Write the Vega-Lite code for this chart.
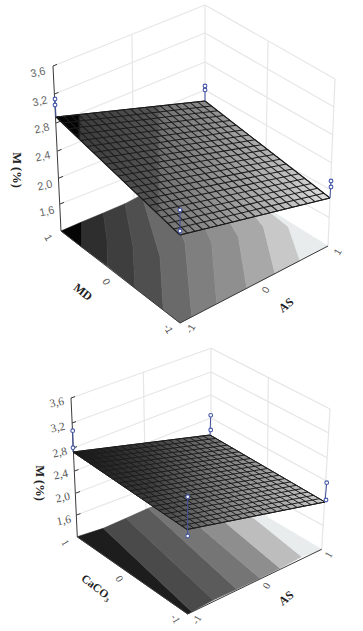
{"$schema":"https://vega.github.io/schema/vega-lite/v6.json","width":363,"height":631,"padding":0,"autosize":{"type":"none"},"background":"white","config":{"view":{"stroke":null}},
"datasets":{
"walls":[
{"x":53,"y":66,"x2":205,"y2":5},{"x":54.5,"y":94,"x2":205,"y2":33},{"x":56,"y":123,"x2":205,"y2":62},{"x":57.5,"y":151,"x2":205,"y2":90},{"x":59,"y":178,"x2":205,"y2":119},{"x":60,"y":204,"x2":205,"y2":147},
{"x":205,"y":5,"x2":335,"y2":79},{"x":205,"y":33,"x2":334,"y2":107},{"x":205,"y":62,"x2":333,"y2":135},{"x":205,"y":90,"x2":332,"y2":163},{"x":205,"y":119,"x2":331,"y2":190},{"x":205,"y":147,"x2":330,"y2":218},
{"x":205,"y":5,"x2":205,"y2":172},{"x":132,"y":35,"x2":134,"y2":202},{"x":268,"y":42,"x2":265,"y2":208},{"x":335,"y":79,"x2":328,"y2":246},
{"x":71,"y":398,"x2":211,"y2":348.3},{"x":72,"y":423,"x2":211,"y2":372},{"x":73,"y":448,"x2":211,"y2":395},{"x":74.5,"y":471,"x2":211,"y2":418},{"x":76,"y":493,"x2":211,"y2":441},{"x":76.5,"y":515,"x2":211,"y2":464},
{"x":211,"y":348.3,"x2":330,"y2":409},{"x":211,"y":372,"x2":328.7,"y2":433},{"x":211,"y":395,"x2":327.5,"y2":458},{"x":211,"y":418,"x2":326.5,"y2":481},{"x":211,"y":441,"x2":325,"y2":503},{"x":211,"y":464,"x2":324,"y2":526},
{"x":211,"y":348.3,"x2":211,"y2":485},{"x":143.3,"y":372.3,"x2":146,"y2":510},{"x":268.3,"y":377.7,"x2":267,"y2":518},{"x":330,"y":409,"x2":321.7,"y2":549.3}],
"floors":[
{"m":2.85,"i":1,"x":61,"y":231},{"m":2.85,"i":2,"x":81.7,"y":222},{"m":2.85,"i":3,"x":81.7,"y":247},
{"m":2.7,"i":1,"x":81.7,"y":222},{"m":2.7,"i":2,"x":103.3,"y":213},{"m":2.7,"i":3,"x":107,"y":240},{"m":2.7,"i":4,"x":107.3,"y":266},{"m":2.7,"i":5,"x":81.7,"y":247},
{"m":2.55,"i":1,"x":103.3,"y":213},{"m":2.55,"i":2,"x":125,"y":203.7},{"m":2.55,"i":3,"x":133,"y":246.7},{"m":2.55,"i":4,"x":135,"y":288},{"m":2.55,"i":5,"x":107.3,"y":266},{"m":2.55,"i":6,"x":107,"y":240},
{"m":2.4,"i":1,"x":125,"y":203.7},{"m":2.4,"i":2,"x":141.7,"y":195},{"m":2.4,"i":3,"x":160,"y":256.7},{"m":2.4,"i":4,"x":163.3,"y":310},{"m":2.4,"i":5,"x":135,"y":288},{"m":2.4,"i":6,"x":133,"y":246.7},
{"m":2.25,"i":1,"x":141.7,"y":195},{"m":2.25,"i":2,"x":163,"y":186},{"m":2.25,"i":3,"x":185,"y":243},{"m":2.25,"i":4,"x":191.7,"y":316.7},{"m":2.25,"i":5,"x":180,"y":323},{"m":2.25,"i":6,"x":163.3,"y":310},{"m":2.25,"i":7,"x":160,"y":256.7},
{"m":2.1,"i":1,"x":163,"y":186},{"m":2.1,"i":2,"x":182,"y":178},{"m":2.1,"i":3,"x":211.7,"y":243},{"m":2.1,"i":4,"x":216.7,"y":303.7},{"m":2.1,"i":5,"x":191.7,"y":316.7},{"m":2.1,"i":6,"x":185,"y":243},
{"m":1.95,"i":1,"x":182,"y":178},{"m":1.95,"i":2,"x":200,"y":172},{"m":1.95,"i":3,"x":238.3,"y":236.7},{"m":1.95,"i":4,"x":246.7,"y":288.3},{"m":1.95,"i":5,"x":216.7,"y":303.7},{"m":1.95,"i":6,"x":211.7,"y":243},
{"m":1.8,"i":1,"x":200,"y":172},{"m":1.8,"i":2,"x":205,"y":170},{"m":1.8,"i":3,"x":230,"y":185},{"m":1.8,"i":4,"x":263.3,"y":226.7},{"m":1.8,"i":5,"x":275,"y":273.7},{"m":1.8,"i":6,"x":246.7,"y":288.3},{"m":1.8,"i":7,"x":238.3,"y":236.7},
{"m":1.65,"i":1,"x":230,"y":185},{"m":1.65,"i":2,"x":256.7,"y":201.7},{"m":1.65,"i":3,"x":288.3,"y":226.7},{"m":1.65,"i":4,"x":300,"y":260.7},{"m":1.65,"i":5,"x":275,"y":273.7},{"m":1.65,"i":6,"x":263.3,"y":226.7},
{"m":1.5,"i":1,"x":256.7,"y":201.7},{"m":1.5,"i":2,"x":328,"y":246},{"m":1.5,"i":3,"x":300,"y":260.7},{"m":1.5,"i":4,"x":288.3,"y":226.7},
{"m":2.77,"i":1,"x":77.3,"y":536.7},{"m":2.77,"i":2,"x":103.3,"y":528.3},{"m":2.77,"i":3,"x":191.7,"y":611.7},{"m":2.77,"i":4,"x":187.7,"y":614},
{"m":2.44,"i":1,"x":103.3,"y":528.3},{"m":2.44,"i":2,"x":126,"y":518.3},{"m":2.44,"i":3,"x":213.3,"y":600},{"m":2.44,"i":4,"x":191.7,"y":611.7},
{"m":2.33,"i":1,"x":126,"y":518.3},{"m":2.33,"i":2,"x":148.3,"y":508.3},{"m":2.33,"i":3,"x":236.7,"y":589.3},{"m":2.33,"i":4,"x":213.3,"y":600},
{"m":2.17,"i":1,"x":148.3,"y":508.3},{"m":2.17,"i":2,"x":168.3,"y":500.3},{"m":2.17,"i":3,"x":260,"y":578.3},{"m":2.17,"i":4,"x":236.7,"y":589.3},
{"m":1.96,"i":1,"x":168.3,"y":500.3},{"m":1.96,"i":2,"x":189,"y":492},{"m":1.96,"i":3,"x":280,"y":568.3},{"m":1.96,"i":4,"x":260,"y":578.3},
{"m":1.7,"i":1,"x":189,"y":492},{"m":1.7,"i":2,"x":212.7,"y":485},{"m":1.7,"i":3,"x":301.7,"y":556.7},{"m":1.7,"i":4,"x":280,"y":568.3},
{"m":1.5001,"i":1,"x":212.7,"y":485},{"m":1.5001,"i":2,"x":321.7,"y":549.3},{"m":1.5001,"i":3,"x":301.7,"y":556.7}],
"axes":[
{"x":53,"y":66,"x2":61,"y2":231},{"x":61,"y":231,"x2":180,"y2":323},{"x":180,"y":323,"x2":328,"y2":246},
{"x":53,"y":66,"x2":57,"y2":64.4},{"x":54.5,"y":94,"x2":58.5,"y2":92.4},{"x":56,"y":123,"x2":60,"y2":121.4},{"x":57.5,"y":151,"x2":61.5,"y2":149.4},{"x":59,"y":178,"x2":63,"y2":176.4},{"x":60,"y":204,"x2":64,"y2":202.4},
{"x":71,"y":398,"x2":77.3,"y2":537},{"x":77.3,"y":537,"x2":187.7,"y2":614},{"x":187.7,"y":614,"x2":321.7,"y2":549.3},
{"x":71,"y":398,"x2":75,"y2":396.6},{"x":72,"y":423,"x2":76,"y2":421.6},{"x":73,"y":448,"x2":77,"y2":446.6},{"x":74.5,"y":471,"x2":78.5,"y2":469.6},{"x":76,"y":493,"x2":80,"y2":491.6},{"x":76.5,"y":515,"x2":80.5,"y2":513.6}],
"surfA":[{"i":1,"x":56,"y":117},{"i":2,"x":205,"y":101},{"i":3,"x":330,"y":198},{"i":4,"x":180,"y":235}],
"surfB":[{"i":1,"x":73,"y":452},{"i":2,"x":210,"y":435},{"i":3,"x":325,"y":502},{"i":4,"x":187,"y":529.5}],
"meshA":[
{"x":56,"y":117,"x2":180,"y2":235},{"x":63.5,"y":116.2,"x2":187.5,"y2":233.2},{"x":70.9,"y":115.4,"x2":195,"y2":231.3},{"x":78.4,"y":114.6,"x2":202.5,"y2":229.5},{"x":85.8,"y":113.8,"x2":210,"y2":227.6},{"x":93.3,"y":113,"x2":217.5,"y2":225.8},{"x":100.7,"y":112.2,"x2":225,"y2":223.9},{"x":108.2,"y":111.4,"x2":232.5,"y2":222.1},{"x":115.6,"y":110.6,"x2":240,"y2":220.2},{"x":123.1,"y":109.8,"x2":247.5,"y2":218.4},{"x":130.5,"y":109,"x2":255,"y2":216.5},{"x":138,"y":108.2,"x2":262.5,"y2":214.7},{"x":145.4,"y":107.4,"x2":270,"y2":212.8},{"x":152.9,"y":106.6,"x2":277.5,"y2":211},{"x":160.3,"y":105.8,"x2":285,"y2":209.1},{"x":167.8,"y":105,"x2":292.5,"y2":207.3},{"x":175.2,"y":104.2,"x2":300,"y2":205.4},{"x":182.7,"y":103.4,"x2":307.5,"y2":203.6},{"x":190.1,"y":102.6,"x2":315,"y2":201.7},{"x":197.6,"y":101.8,"x2":322.5,"y2":199.9},{"x":205,"y":101,"x2":330,"y2":198},
{"x":56,"y":117,"x2":205,"y2":101},{"x":62.2,"y":122.9,"x2":211.3,"y2":105.9},{"x":68.4,"y":128.8,"x2":217.5,"y2":110.7},{"x":74.6,"y":134.7,"x2":223.8,"y2":115.6},{"x":80.8,"y":140.6,"x2":230,"y2":120.4},{"x":87,"y":146.5,"x2":236.3,"y2":125.3},{"x":93.2,"y":152.4,"x2":242.5,"y2":130.1},{"x":99.4,"y":158.3,"x2":248.8,"y2":135},{"x":105.6,"y":164.2,"x2":255,"y2":139.8},{"x":111.8,"y":170.1,"x2":261.3,"y2":144.7},{"x":118,"y":176,"x2":267.5,"y2":149.5},{"x":124.2,"y":181.9,"x2":273.8,"y2":154.4},{"x":130.4,"y":187.8,"x2":280,"y2":159.2},{"x":136.6,"y":193.7,"x2":286.3,"y2":164.1},{"x":142.8,"y":199.6,"x2":292.5,"y2":168.9},{"x":149,"y":205.5,"x2":298.8,"y2":173.8},{"x":155.2,"y":211.4,"x2":305,"y2":178.6},{"x":161.4,"y":217.3,"x2":311.3,"y2":183.5},{"x":167.6,"y":223.2,"x2":317.5,"y2":188.3},{"x":173.8,"y":229.1,"x2":323.8,"y2":193.2},{"x":180,"y":235,"x2":330,"y2":198}],
"meshB":[
{"x":73,"y":452,"x2":187,"y2":529.5},{"x":79.9,"y":451.2,"x2":193.9,"y2":528.1},{"x":86.7,"y":450.3,"x2":200.8,"y2":526.8},{"x":93.6,"y":449.5,"x2":207.7,"y2":525.4},{"x":100.4,"y":448.6,"x2":214.6,"y2":524},{"x":107.3,"y":447.8,"x2":221.5,"y2":522.6},{"x":114.1,"y":446.9,"x2":228.4,"y2":521.3},{"x":121,"y":446.1,"x2":235.3,"y2":519.9},{"x":127.8,"y":445.2,"x2":242.2,"y2":518.5},{"x":134.7,"y":444.4,"x2":249.1,"y2":517.1},{"x":141.5,"y":443.5,"x2":256,"y2":515.8},{"x":148.4,"y":442.7,"x2":262.9,"y2":514.4},{"x":155.2,"y":441.8,"x2":269.8,"y2":513},{"x":162.1,"y":441,"x2":276.7,"y2":511.6},{"x":168.9,"y":440.1,"x2":283.6,"y2":510.3},{"x":175.8,"y":439.3,"x2":290.5,"y2":508.9},{"x":182.6,"y":438.4,"x2":297.4,"y2":507.5},{"x":189.5,"y":437.6,"x2":304.3,"y2":506.1},{"x":196.3,"y":436.7,"x2":311.2,"y2":504.8},{"x":203.2,"y":435.9,"x2":318.1,"y2":503.4},{"x":210,"y":435,"x2":325,"y2":502},
{"x":73,"y":452,"x2":210,"y2":435},{"x":78.7,"y":455.9,"x2":215.8,"y2":438.4},{"x":84.4,"y":459.8,"x2":221.5,"y2":441.7},{"x":90.1,"y":463.6,"x2":227.3,"y2":445.1},{"x":95.8,"y":467.5,"x2":233,"y2":448.4},{"x":101.5,"y":471.4,"x2":238.8,"y2":451.8},{"x":107.2,"y":475.3,"x2":244.5,"y2":455.1},{"x":112.9,"y":479.1,"x2":250.3,"y2":458.5},{"x":118.6,"y":483,"x2":256,"y2":461.8},{"x":124.3,"y":486.9,"x2":261.8,"y2":465.2},{"x":130,"y":490.8,"x2":267.5,"y2":468.5},{"x":135.7,"y":494.6,"x2":273.3,"y2":471.9},{"x":141.4,"y":498.5,"x2":279,"y2":475.2},{"x":147.1,"y":502.4,"x2":284.8,"y2":478.6},{"x":152.8,"y":506.3,"x2":290.5,"y2":481.9},{"x":158.5,"y":510.1,"x2":296.3,"y2":485.3},{"x":164.2,"y":514,"x2":302,"y2":488.6},{"x":169.9,"y":517.9,"x2":307.8,"y2":492},{"x":175.6,"y":521.8,"x2":313.5,"y2":495.3},{"x":181.3,"y":525.6,"x2":319.3,"y2":498.7},{"x":187,"y":529.5,"x2":325,"y2":502}],
"links":[{"x":55,"y":99,"x2":56,"y2":117},{"x":205,"y":86,"x2":205,"y2":101},{"x":331,"y":181,"x2":330,"y2":198},{"x":180,"y":210,"x2":180,"y2":235},{"x":72.7,"y":430.7,"x2":73,"y2":452},{"x":210.7,"y":415.3,"x2":210,"y2":435},{"x":326.7,"y":482.7,"x2":325,"y2":502},{"x":187.7,"y":496.7,"x2":187.7,"y2":536}],
"obs":[{"x":55,"y":99},{"x":55,"y":105},{"x":205,"y":86},{"x":205,"y":90},{"x":331,"y":181},{"x":331,"y":187},{"x":180,"y":210},{"x":180,"y":231},{"x":72.7,"y":430.7},{"x":73,"y":447.7},{"x":210.7,"y":415.3},{"x":210.7,"y":430},{"x":326.7,"y":482.7},{"x":326,"y":500},{"x":187.7,"y":496.7},{"x":187.7,"y":536}]
},
"encoding":{"x":{"field":"x","type":"quantitative","scale":{"domain":[0,363],"nice":false,"zero":false},"axis":null},"y":{"field":"y","type":"quantitative","scale":{"domain":[631,0],"nice":false,"zero":false},"axis":null}},
"layer":[
{"data":{"name":"walls"},"mark":{"type":"rule","stroke":"#e6e6e6","strokeWidth":1.2},"encoding":{"x2":{"field":"x2"},"y2":{"field":"y2"}}},
{"data":{"name":"floors"},"mark":{"type":"line","filled":true,"interpolate":"linear-closed","strokeWidth":0.6},"encoding":{"order":{"field":"i","type":"quantitative"},"fill":{"field":"m","type":"quantitative","legend":null,"scale":{"domain":[1.5,1.65,1.8,1.95,2.1,2.25,2.4,2.55,2.7,2.85],"range":["#e8ecec","#c8c8c8","#a8a8a8","#8f8f8f","#7f7f7f","#6a6a6a","#4f4f4f","#3e3e3e","#2e2e2e","#050505"]}},"stroke":{"field":"m","type":"quantitative","legend":null,"scale":{"domain":[1.5,1.65,1.8,1.95,2.1,2.25,2.4,2.55,2.7,2.85],"range":["#e8ecec","#c8c8c8","#a8a8a8","#8f8f8f","#7f7f7f","#6a6a6a","#4f4f4f","#3e3e3e","#2e2e2e","#050505"]}},"detail":{"field":"m"}}},
{"data":{"name":"axes"},"mark":{"type":"rule","stroke":"#3a3a3a","strokeWidth":1},"encoding":{"x2":{"field":"x2"},"y2":{"field":"y2"}}},
{"data":{"name":"surfA"},"mark":{"type":"line","filled":true,"interpolate":"linear-closed","stroke":"#222222","strokeWidth":1,"fill":{"gradient":"linear","x1":0,"y1":0,"x2":1,"y2":0,"stops":[{"offset":0,"color":"#050505"},{"offset":0.08,"color":"#050505"},{"offset":0.09,"color":"#3c3c3c"},{"offset":0.37,"color":"#565656"},{"offset":0.38,"color":"#707070"},{"offset":0.55,"color":"#8c8c8c"},{"offset":0.7,"color":"#a6a6a6"},{"offset":0.85,"color":"#c0c0c0"},{"offset":1,"color":"#e0e0e0"}]}},"encoding":{"order":{"field":"i","type":"quantitative"}}},
{"data":{"name":"surfB"},"mark":{"type":"line","filled":true,"interpolate":"linear-closed","stroke":"#222222","strokeWidth":1,"fill":{"gradient":"linear","x1":0,"y1":0,"x2":1,"y2":0,"stops":[{"offset":0,"color":"#151515"},{"offset":0.3,"color":"#3c3c3c"},{"offset":0.6,"color":"#808080"},{"offset":1,"color":"#cccccc"}]}},"encoding":{"order":{"field":"i","type":"quantitative"}}},
{"data":{"name":"meshA"},"mark":{"type":"rule","stroke":"#1c1c1c","strokeWidth":1.05},"encoding":{"x2":{"field":"x2"},"y2":{"field":"y2"}}},
{"data":{"name":"meshB"},"mark":{"type":"rule","stroke":"#1c1c1c","strokeWidth":1},"encoding":{"x2":{"field":"x2"},"y2":{"field":"y2"}}},
{"data":{"name":"links"},"mark":{"type":"rule","stroke":"#3f4f9f","strokeWidth":1},"encoding":{"x2":{"field":"x2"},"y2":{"field":"y2"}}},
{"data":{"name":"obs"},"mark":{"type":"point","shape":"circle","size":14,"stroke":"#4558a8","strokeWidth":1.1,"fill":"white","filled":true,"opacity":1}},
{"data":{"values":[{"x":38,"y":73,"t":"3,6"},{"x":40,"y":102,"t":"3,2"},{"x":42,"y":129,"t":"2,8"},{"x":43,"y":157,"t":"2,4"},{"x":45,"y":186,"t":"2,0"},{"x":47,"y":212,"t":"1,6"}]},"mark":{"type":"text","font":"Liberation Sans","fontSize":11,"angle":-12,"fill":"#666666"},"encoding":{"text":{"field":"t"}}},
{"data":{"values":[{"x":48,"y":238,"t":"1"},{"x":106,"y":282,"t":"0"},{"x":168,"y":329,"t":"-1"}]},"mark":{"type":"text","font":"Liberation Sans","fontSize":10,"angle":60,"fill":"#555555"},"encoding":{"text":{"field":"t"}}},
{"data":{"values":[{"x":338,"y":252,"t":"1"},{"x":266,"y":290,"t":"0"},{"x":191,"y":329,"t":"-1"}]},"mark":{"type":"text","font":"Liberation Sans","fontSize":10,"angle":-60,"fill":"#555555"},"encoding":{"text":{"field":"t"}}},
{"data":{"values":[{"x":83,"y":292,"t":"MD"}]},"mark":{"type":"text","font":"Liberation Serif","fontWeight":"bold","fontSize":12,"angle":38,"fill":"#222222"},"encoding":{"text":{"field":"t"}}},
{"data":{"values":[{"x":96,"y":588,"t":"CaCO₃"}]},"mark":{"type":"text","font":"Liberation Serif","fontWeight":"bold","fontSize":11.5,"angle":38,"fill":"#222222"},"encoding":{"text":{"field":"t"}}},
{"data":{"values":[{"x":286,"y":305,"t":"AS"},{"x":286,"y":598,"t":"AS"}]},"mark":{"type":"text","font":"Liberation Serif","fontWeight":"bold","fontSize":12,"angle":-38,"fill":"#222222"},"encoding":{"text":{"field":"t"}}},
{"data":{"values":[{"x":17,"y":170,"t":"M (%)"},{"x":40,"y":483,"t":"M (%)"}]},"mark":{"type":"text","font":"Liberation Serif","fontWeight":"bold","fontSize":12.5,"angle":90,"fill":"#222222"},"encoding":{"text":{"field":"t"}}},
{"data":{"values":[{"x":57,"y":403,"t":"3,6"},{"x":58,"y":428,"t":"3,2"},{"x":60,"y":453,"t":"2,8"},{"x":61,"y":475,"t":"2,4"},{"x":63,"y":498,"t":"2,0"},{"x":64,"y":521,"t":"1,6"}]},"mark":{"type":"text","font":"Liberation Serif","fontSize":11.5,"angle":-12,"fill":"#555555"},"encoding":{"text":{"field":"t"}}},
{"data":{"values":[{"x":65,"y":543,"t":"1"},{"x":119,"y":579,"t":"0"},{"x":175,"y":619,"t":"-1"}]},"mark":{"type":"text","font":"Liberation Serif","fontSize":10.5,"angle":60,"fill":"#555555"},"encoding":{"text":{"field":"t"}}},
{"data":{"values":[{"x":329,"y":555,"t":"1"},{"x":267,"y":586,"t":"0"},{"x":197,"y":620,"t":"-1"}]},"mark":{"type":"text","font":"Liberation Serif","fontSize":10.5,"angle":-60,"fill":"#555555"},"encoding":{"text":{"field":"t"}}}
]}
